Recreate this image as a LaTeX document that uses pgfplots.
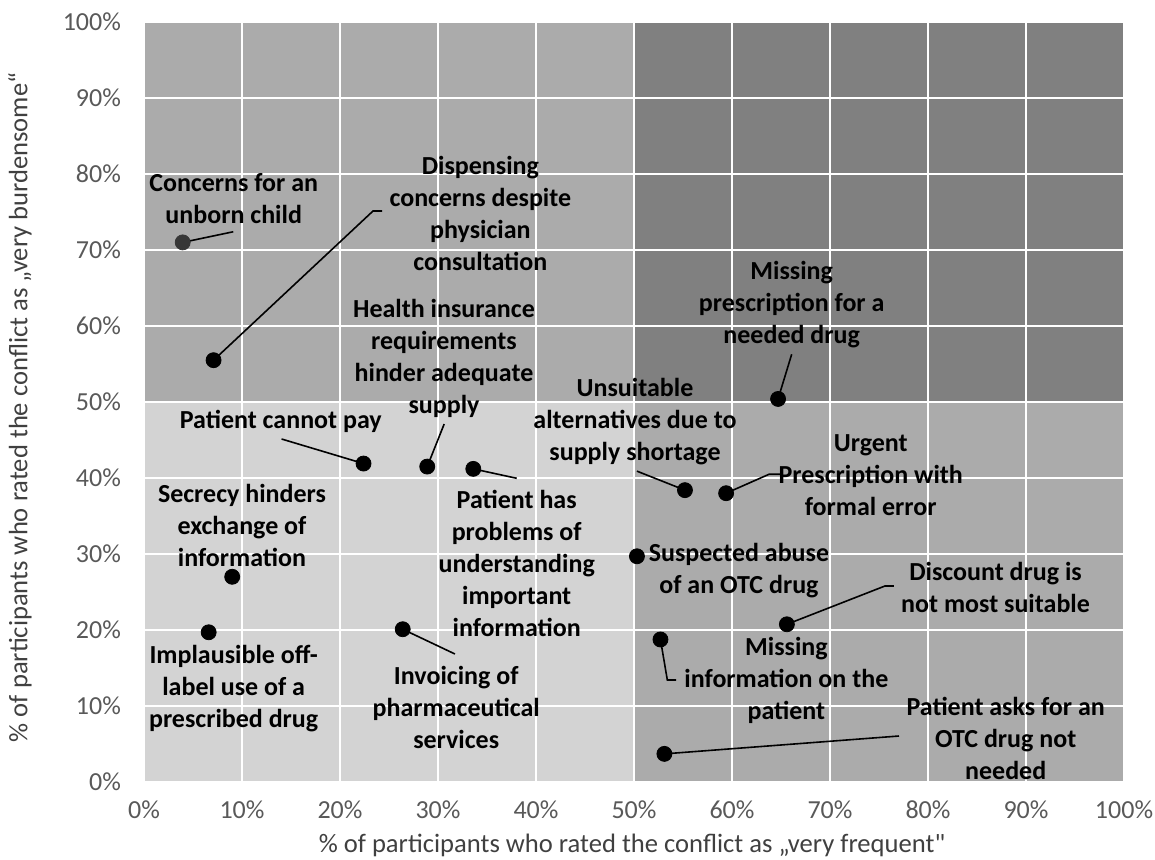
\documentclass[border=0pt]{standalone}
\usepackage{fontspec}
\setmainfont{Carlito}[Ligatures=TeXOff]
\usepackage{pgfplots}
\pgfplotsset{compat=1.18}
\definecolor{qTL}{RGB}{171,171,171}
\definecolor{qTR}{RGB}{128,128,128}
\definecolor{qBL}{RGB}{211,211,211}
\definecolor{qBR}{RGB}{171,171,171}
\definecolor{tickgray}{RGB}{89,89,89}
\definecolor{labgray}{RGB}{64,64,64}
\definecolor{dotgray}{RGB}{55,55,55}
\begin{document}
\begin{tikzpicture}[lab/.style={font=\bfseries\fontsize{13}{16}\selectfont, align=center, text=black, inner sep=0pt}]
\begin{axis}[
  at={(0,0)}, anchor=south west,
  width=490pt, height=380pt, scale only axis,
  xmin=0, xmax=100, ymin=0, ymax=100,
  xtick={0,10,...,100}, ytick={0,10,...,100},
  xticklabel={\pgfmathprintnumber{\tick}\%},
  yticklabel={\pgfmathprintnumber{\tick}\%},
  /pgf/number format/assume math mode=true,
  tick label style={font=\fontsize{13}{15}\selectfont, text=tickgray},
  xticklabel style={yshift=-6pt},
  yticklabel style={xshift=-8pt},
  grid=major, grid style={white, line width=1pt},
  axis line style={draw=none},
  major tick length=0pt,
  set layers, clip=false,
  xlabel={\% of participants who rated the conflict as „very frequent"},
  ylabel={\% of participants who rated the conflict as „very burdensome“},
  every axis x label/.style={at={(axis description cs:0.498,-0.083)}, anchor=center, font=\fontsize{13.3}{16}\selectfont, text=labgray},
  every axis y label/.style={at={(axis description cs:-0.1265,0.493)}, anchor=center, rotate=90, font=\fontsize{13.3}{16}\selectfont, text=labgray},
]
% quadrant backgrounds
\addplot[draw=none, fill=qBL, on layer=axis background] coordinates {(0,0)(50,0)(50,50)(0,50)};
\addplot[draw=none, fill=qBR, on layer=axis background] coordinates {(50,0)(100,0)(100,50)(50,50)};
\addplot[draw=none, fill=qTL, on layer=axis background] coordinates {(0,50)(50,50)(50,100)(0,100)};
\addplot[draw=none, fill=qTR, on layer=axis background] coordinates {(50,50)(100,50)(100,100)(50,100)};
% leader lines
\addplot[black, line width=0.8pt, no marks] coordinates {(3.95,71.0)(9.11,72.4)};
\addplot[black, line width=0.8pt, no marks] coordinates {(7.1,55.5)(23.37,75.13)(24.29,75.13)};
\addplot[black, line width=0.8pt, no marks] coordinates {(22.4,41.9)(14.04,45.13)};
\addplot[black, line width=0.8pt, no marks] coordinates {(28.9,41.5)(30.63,47.1)};
\addplot[black, line width=0.8pt, no marks] coordinates {(33.6,41.2)(38.03,39.96)};
\addplot[black, line width=0.8pt, no marks] coordinates {(26.4,20.1)(31.73,16.84)};
\addplot[black, line width=0.8pt, no marks] coordinates {(55.2,38.4)(50.3,40.9)};
\addplot[black, line width=0.8pt, no marks] coordinates {(59.4,38.0)(63.78,40.49)(64.94,40.49)};
\addplot[black, line width=0.8pt, no marks] coordinates {(64.7,50.4)(66.09,56.28)};
\addplot[black, line width=0.8pt, no marks] coordinates {(65.6,20.75)(75.61,25.79)(76.51,25.79)};
\addplot[black, line width=0.8pt, no marks] coordinates {(52.7,18.75)(53.4,13.42)(54.29,13.42)};
\addplot[black, line width=0.8pt, no marks] coordinates {(53.1,3.7)(77.04,6.05)};
% points
\addplot[only marks, mark=*, mark size=3.75pt, dotgray, mark options={fill=dotgray, draw=dotgray}] coordinates {(3.95,71.0)};
\addplot[only marks, mark=*, mark size=3.75pt, black, mark options={fill=black}] coordinates {
  (7.1,55.5) (22.4,41.9) (28.9,41.5) (33.6,41.2) (9.0,27.0) (6.6,19.7) (26.4,20.1)
  (64.7,50.4) (55.2,38.4) (59.4,38.0) (50.3,29.7) (65.6,20.75) (52.7,18.75) (53.1,3.7)};
% labels
\node[lab] at (axis cs:9.15,76.74) {Concerns for an\\unborn child};
\node[lab] at (axis cs:34.32,74.87) {Dispensing\\concerns despite\\physician\\consultation};
\node[lab] at (axis cs:30.61,55.79) {Health insurance\\requirements\\hinder adequate\\supply};
\node[lab] at (axis cs:13.96,47.41) {Patient cannot pay};
\node[lab] at (axis cs:50.1,47.37) {Unsuitable\\alternatives due to\\supply shortage};
\node[lab] at (axis cs:66.09,62.83) {Missing\\prescription for a\\needed drug};
\node[lab] at (axis cs:74.16,40.39) {Urgent\\Prescription with\\formal error};
\node[lab] at (axis cs:10.0,33.78) {Secrecy hinders\\exchange of\\information};
\node[lab] at (axis cs:9.15,12.28) {Implausible off-\\label use of a\\prescribed drug};
\node[lab] at (axis cs:38.03,28.75) {Patient has\\problems of\\understanding\\important\\information};
\node[lab] at (axis cs:31.86,9.85) {Invoicing of\\pharmaceutical\\services};
\node[lab] at (axis cs:60.71,27.83) {Suspected abuse\\of an OTC drug};
\node[lab] at (axis cs:86.89,25.59) {Discount drug is\\not most suitable};
\node[lab] at (axis cs:65.55,13.38) {Missing\\information on the\\patient};
\node[lab] at (axis cs:87.93,5.79) {Patient asks for an\\OTC drug not\\needed};
\end{axis}
\pgfresetboundingbox
\path[use as bounding box] (-72pt,-39pt) rectangle (505.5pt,391pt);
\end{tikzpicture}
\end{document}
